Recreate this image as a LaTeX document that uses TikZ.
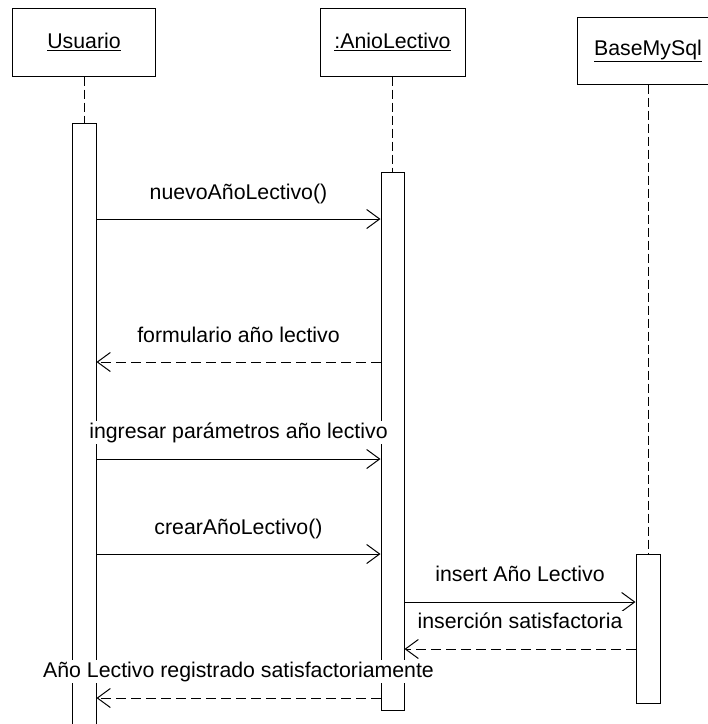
\documentclass[tikz,border=0pt]{standalone}
\usepackage{fontspec}
\setmainfont{Liberation Sans}
\usetikzlibrary{arrows.meta}
\begin{document}
\begin{tikzpicture}[x=1pt,y=-1pt,
  every node/.style={font=\fontsize{21.3}{25}\selectfont},
  obj/.style={draw, line width=1pt, fill=white, inner sep=0pt},
  act/.style={draw, line width=1pt, fill=white, inner sep=0pt},
  life/.style={line width=1pt, dash pattern=on 9pt off 4pt},
  call/.style={line width=1pt, -{Straight Barb[length=13pt,width=19pt]}},
  reply/.style={call, dash pattern=on 10pt off 5pt},
  lbl/.style={fill=white, inner sep=1.5pt, anchor=base}]
\useasboundingbox (0,0) rectangle (708,724);
% objects
\node[obj, minimum width=143pt, minimum height=68pt] (u) at (84,42) {\underline{Usuario}};
\node[obj, minimum width=145pt, minimum height=68pt] (a) at (392.5,42) {\underline{:AnioLectivo}};
\node[obj, minimum width=142pt, minimum height=67pt] (b) at (648,50.5) {\underline{BaseMySql}};
% activations
\node[act, minimum width=24pt, minimum height=617pt] (ua) at (84,431.5) {};
\node[act, minimum width=23pt, minimum height=538pt] (aa) at (392.5,441) {};
\node[act, minimum width=24pt, minimum height=149pt] (ba) at (648,628.5) {};
% lifelines
\draw[life] (u.south) -- (ua.north);
\draw[life] (a.south) -- (aa.north);
\draw[life] (b.south) -- (ba.north);
% message levels
\coordinate (y1) at (0,219);
\coordinate (y2) at (0,362);
\coordinate (y3) at (0,459);
\coordinate (y4) at (0,554);
\coordinate (y5) at (0,602);
\coordinate (y6) at (0,649);
\coordinate (y7) at (0,698);
% messages
\draw[call]  (ua.east |- y1) -- (aa.west |- y1);
\draw[reply] (aa.west |- y2) -- (ua.east |- y2);
\draw[call]  (ua.east |- y3) -- (aa.west |- y3);
\draw[call]  (ua.east |- y4) -- (aa.west |- y4);
\draw[call]  (aa.east |- y5) -- (ba.west |- y5);
\draw[reply] (ba.west |- y6) -- (aa.east |- y6);
\draw[reply] (aa.west |- y7) -- (ua.east |- y7);
% labels
\node[lbl] (l1) at (238.5,199) {nuevoAñoLectivo()};
\node[lbl] (l2) at (238.5,342) {formulario año lectivo};
\node[lbl] (l3) at (238.5,438) {ingresar parámetros año lectivo};
\node[lbl] (l4) at (238.5,534) {crearAñoLectivo()};
\node[lbl] (l5) at (520,581) {insert Año Lectivo};
\node[lbl] (l6) at (520,628) {inserción satisfactoria};
\node[lbl] (l7) at (238.5,677) {Año Lectivo registrado satisfactoriamente};
\end{tikzpicture}
\end{document}
